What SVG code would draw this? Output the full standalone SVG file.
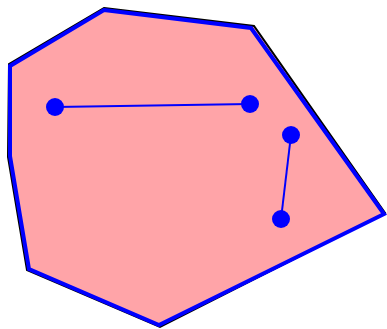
<svg xmlns="http://www.w3.org/2000/svg" width="387" height="329" viewBox="0 0 387 329">
<style>
.hull{fill:#ffa4a8;stroke:#000;stroke-width:2;stroke-linejoin:miter}
.inner{fill:#ffa4a8;stroke:#0000ff;stroke-width:4;stroke-linejoin:miter}
.edge{stroke:#0000ff;stroke-width:2}
.pt{fill:#0000ff}
</style>
<g id="hull">
<polygon class="hull" points="104,8 254,26 385,213 160,327 27,270 8,157 9,64"/>
<polygon class="inner" points="104,10 251,28 384,214 159,325 29,269 10,156 10,66"/>
</g>
<g id="connectors">
<line class="edge" x1="55" y1="107" x2="250" y2="104"/>
<line class="edge" x1="291" y1="135" x2="281" y2="219"/>
</g>
<g id="p1"><circle class="pt" cx="55" cy="107" r="9"/></g>
<g id="p2"><circle class="pt" cx="250" cy="104" r="9"/></g>
<g id="p3"><circle class="pt" cx="291" cy="135" r="9"/></g>
<g id="p4"><circle class="pt" cx="281" cy="219" r="9"/></g>
</svg>
